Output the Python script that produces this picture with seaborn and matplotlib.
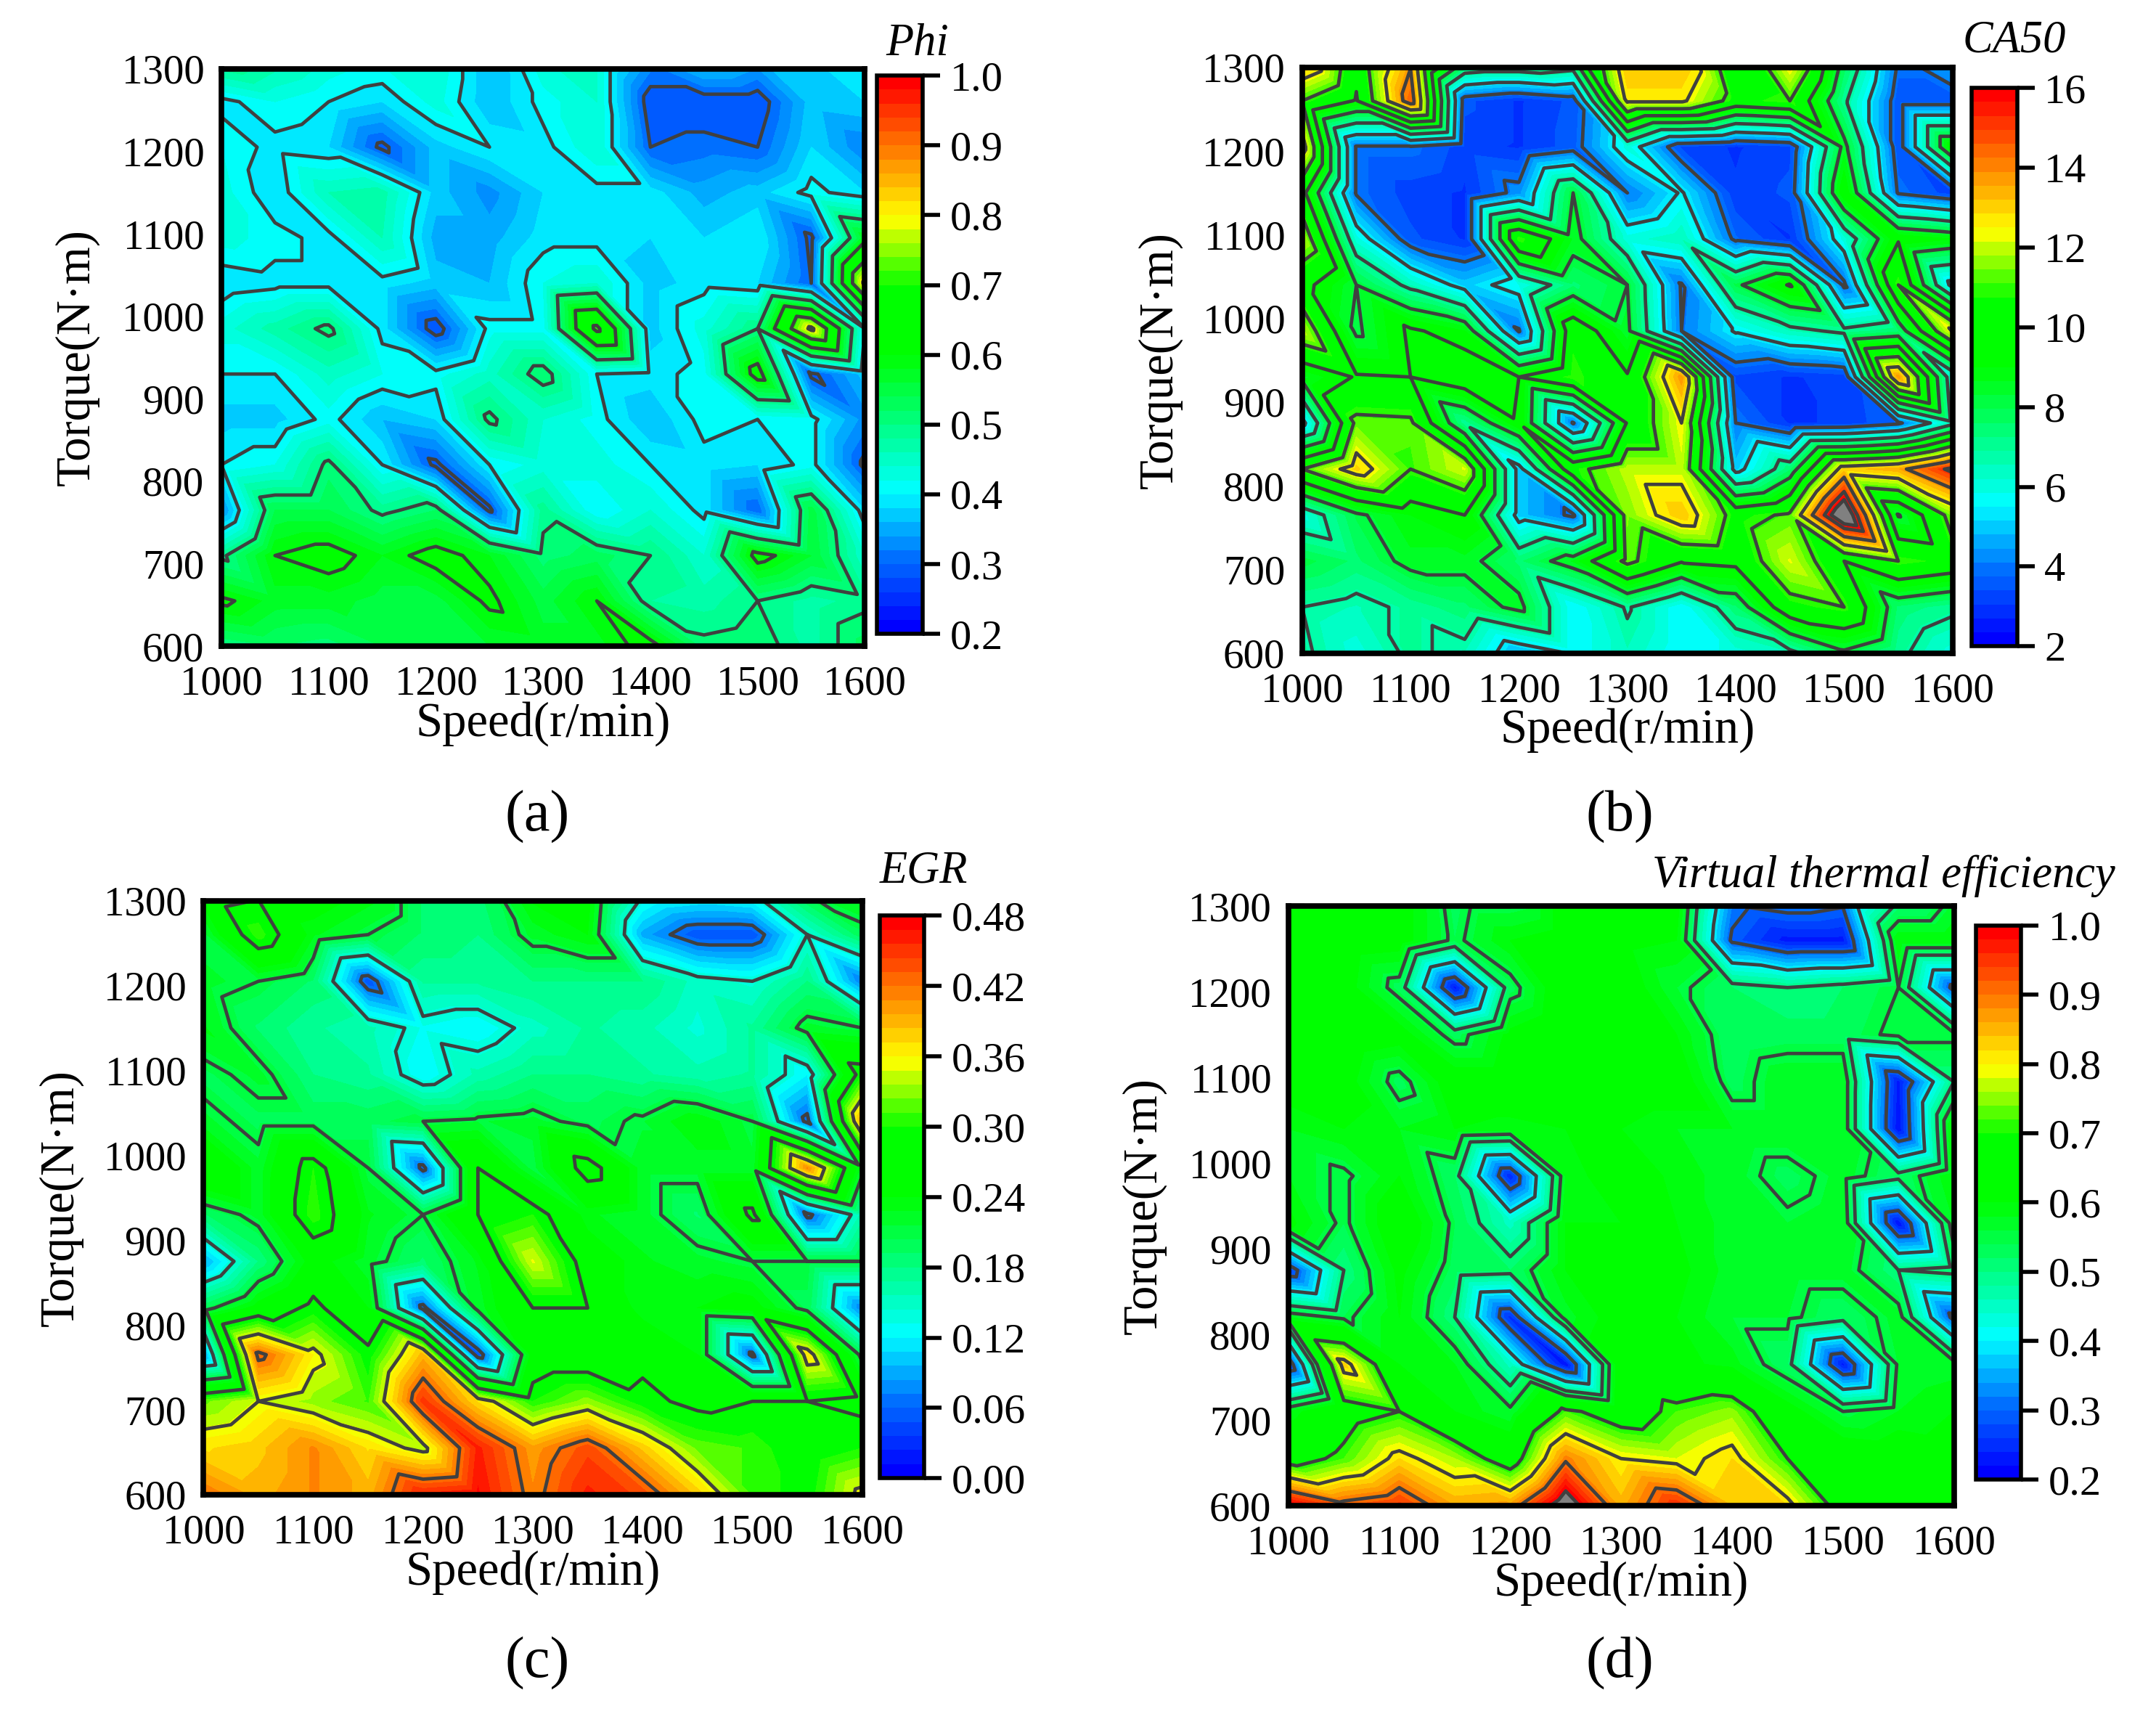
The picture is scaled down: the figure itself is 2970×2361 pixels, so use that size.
import numpy as np
import matplotlib
matplotlib.use("Agg")
import matplotlib.pyplot as plt
import matplotlib.tri as mtri
import seaborn as sns

speed = [1000, 1050, 1100, 1150, 1200, 1250, 1300, 1350, 1400, 1450, 1500, 1550, 1600]
# torque rows, top to bottom (the top row sits just above the axis limit)
torque = [1315, 1260, 1205, 1150, 1095, 1040, 985, 930, 875, 820, 765, 710, 655, 600]

phi = [
    [.52, .48, .44, .43, .44, .36, .44, .44, .34, .40, .36, .38, .38],
    [.39, .42, .40, .38, .43, .36, .41, .44, .28, .28, .28, .37, .38],
    [.42, .39, .38, .29, .37, .40, .39, .44, .30, .31, .30, .38, .32],
    [.43, .38, .46, .47, .37, .33, .38, .39, .39, .35, .37, .41, .38],
    [.43, .41, .39, .46, .35, .35, .39, .39, .38, .38, .40, .29, .58],
    [.38, .39, .39, .39, .37, .36, .42, .44, .37, .39, .38, .30, .82],
    [.43, .47, .51, .39, .28, .41, .41, .72, .37, .43, .50, .82, .40],
    [.40, .40, .45, .42, .41, .45, .52, .40, .39, .41, .63, .29, .37],
    [.37, .37, .41, .36, .38, .51, .44, .41, .36, .41, .40, .41, .33],
    [.40, .42, .51, .40, .29, .40, .43, .43, .40, .39, .38, .41, .29],
    [.33, .54, .54, .49, .52, .29, .49, .40, .44, .39, .30, .55, .38],
    [.49, .60, .62, .58, .62, .58, .51, .53, .50, .44, .62, .56, .44],
    [.61, .57, .57, .55, .55, .61, .55, .60, .48, .47, .50, .47, .49],
    [.50, .52, .51, .54, .55, .56, .57, .57, .62, .51, .52, .47, .53],
]

ca50 = [
    [14.0, 10.0, 13.5, 9.0, 9.0, 8.5, 13.5, 13.5, 9.5, 13.0, 8.0, 4.0, 5.0],
    [11.0, 9.5, 14.5, 3.5, 3.0, 3.5, 12.6, 12.6, 10.5, 11.0, 7.0, 3.5, 3.5],
    [13.0, 3.9, 3.9, 3.2, 3.0, 3.6, 6.0, 3.3, 3.0, 3.3, 8.5, 3.5, 9.6],
    [10.0, 3.9, 3.2, 3.0, 4.3, 8.2, 4.0, 5.5, 3.1, 3.5, 9.5, 3.9, 3.2],
    [12.0, 6.0, 3.5, 3.0, 11.0, 8.6, 6.0, 6.5, 3.8, 3.0, 6.0, 9.5, 9.0],
    [10.0, 8.2, 6.5, 5.0, 5.8, 7.5, 8.2, 3.9, 8.0, 9.7, 3.8, 11.0, 5.0],
    [12.0, 8.0, 9.8, 9.0, 3.9, 10.5, 8.4, 4.0, 5.5, 6.5, 7.0, 7.5, 12.5],
    [8.5, 9.7, 9.6, 10.5, 9.6, 11.0, 9.7, 13.8, 3.3, 3.0, 3.2, 13.8, 6.0],
    [5.0, 11.3, 11.2, 7.0, 9.5, 3.9, 9.7, 12.4, 4.0, 3.0, 3.1, 3.8, 6.5],
    [11.0, 13.0, 11.0, 12.2, 5.0, 10.6, 12.0, 12.0, 5.0, 7.5, 13.0, 13.5, 15.5],
    [6.0, 8.0, 9.0, 9.6, 5.0, 3.8, 11.5, 13.2, 10.5, 11.2, 17.5, 8.1, 11.5],
    [8.1, 7.5, 8.5, 8.5, 7.5, 8.7, 11.3, 9.7, 9.9, 12.2, 9.6, 11.0, 10.5],
    [6.8, 6.5, 7.0, 7.5, 8.5, 5.5, 6.9, 5.5, 7.5, 10.5, 11.0, 7.5, 7.0],
    [7.0, 6.0, 7.0, 6.5, 4.6, 5.5, 6.5, 5.5, 6.0, 6.5, 8.0, 7.0, 6.0],
]

egr = [
    [.26, .27, .26, .24, .19, .19, .25, .25, .15, .14, .15, .22, .24],
    [.21, .31, .23, .21, .19, .18, .22, .24, .09, .05, .05, .14, .20],
    [.22, .21, .19, .05, .17, .17, .18, .18, .18, .15, .14, .18, .07],
    [.23, .19, .17, .16, .13, .12, .15, .17, .16, .14, .17, .22, .21],
    [.20, .22, .18, .17, .12, .16, .18, .18, .17, .16, .17, .12, .30],
    [.22, .20, .20, .20, .21, .215, .22, .20, .215, .24, .21, .06, .40],
    [.28, .22, .30, .21, .06, .28, .21, .30, .22, .22, .22, .41, .22],
    [.19, .22, .31, .23, .21, .28, .30, .23, .22, .19, .29, .06, .16],
    [.09, .18, .25, .22, .19, .23, .35, .26, .23, .22, .21, .21, .21],
    [.20, .25, .29, .24, .06, .22, .28, .28, .23, .24, .25, .20, .07],
    [.08, .43, .36, .29, .39, .05, .25, .25, .27, .24, .06, .37, .20],
    [.32, .35, .33, .31, .45, .37, .30, .33, .29, .27, .28, .28, .27],
    [.37, .38, .41, .37, .34, .46, .40, .44, .38, .32, .31, .28, .30],
    [.42, .39, .41, .39, .46, .47, .41, .46, .44, .38, .31, .29, .36],
]

thermal = [
    [.60, .61, .62, .53, .53, .62, .62, .62, .33, .35, .33, .48, .55],
    [.65, .63, .62, .54, .60, .62, .61, .60, .29, .23, .23, .60, .60],
    [.60, .62, .53, .23, .53, .64, .63, .56, .52, .50, .52, .55, .28],
    [.63, .64, .62, .53, .61, .65, .62, .60, .52, .53, .53, .56, .56],
    [.62, .62, .53, .63, .63, .64, .63, .63, .53, .58, .58, .23, .50],
    [.58, .60, .58, .60, .59, .60, .60, .58, .58, .58, .58, .22, .62],
    [.58, .54, .60, .52, .24, .58, .63, .59, .57, .53, .57, .52, .60],
    [.61, .54, .64, .54, .45, .60, .60, .60, .57, .56, .58, .22, .58],
    [.26, .50, .61, .53, .52, .60, .61, .61, .57, .57, .57, .50, .52],
    [.58, .54, .60, .50, .25, .57, .62, .60, .56, .56, .52, .57, .28],
    [.25, .83, .60, .58, .45, .22, .64, .61, .59, .52, .23, .56, .57],
    [.58, .66, .70, .60, .56, .72, .65, .72, .75, .62, .55, .58, .60],
    [.66, .72, .82, .76, .65, .89, .80, .78, .82, .70, .64, .63, .62],
    [1.01, .92, .95, .86, .87, 1.05, .85, .96, .84, .82, .66, .62, .66],
]

phi_ticks = [0.2, 0.3, 0.4, 0.5, 0.6, 0.7, 0.8, 0.9, 1.0]
ca50_ticks = [2, 4, 6, 8, 10, 12, 14, 16]
egr_ticks = [0.00, 0.06, 0.12, 0.18, 0.24, 0.30, 0.36, 0.42, 0.48]
thermal_ticks = [0.2, 0.3, 0.4, 0.5, 0.6, 0.7, 0.8, 0.9, 1.0]

phi_lines = [0.3, 0.4, 0.5, 0.6, 0.7, 0.8, 0.9]
ca50_lines = [4, 5.4, 6.8, 8.2, 9.6, 11, 12.4, 13.8, 15.2, 16]
egr_lines = [0.07, 0.14, 0.21, 0.28, 0.35, 0.42]
thermal_lines = [0.3, 0.4, 0.5, 0.55, 0.7, 0.8, 0.9, 1.0]

sns.set_theme(style="ticks", rc={"axes.grid": False})
plt.rcParams['font.family'] = ['Liberation Serif', 'DejaVu Serif']

# rainbow with a flat green stretch, as in the colour bars
colors = sns.blend_palette(
    ["#0000ff", "#006eff", "#00ffff", "#00ff80", "#00ff00",
     "#00ff00", "#ffff00", "#ff8000", "#ff0000"],
    n_colors=40)
cmap = matplotlib.colors.ListedColormap(colors)
cmap.set_over("#808080")
cmap.set_under("#0000ff")

W, H = 2970, 2361
SCALE = 2970 / 1568
fig = plt.figure(figsize=(W / 100, H / 100), dpi=100)

# triangles split along the upper-left to lower-right diagonal
n_rows, n_cols = len(torque), len(speed)
triangles = []
for r in range(n_rows - 1):
    for c in range(n_cols - 1):
        a = r * n_cols + c
        triangles.append([a, a + 1, a + n_cols + 1])
        triangles.append([a, a + n_cols + 1, a + n_cols])
xx, yy = np.meshgrid(speed, torque)
tri = mtri.Triangulation(xx.ravel(), yy.ravel(), triangles)


def box(x0, y0, x1, y1):
    # shrunk-picture pixel box to figure fractions
    return [x0 * SCALE / W, 1 - y1 * SCALE / H, (x1 - x0) * SCALE / W, (y1 - y0) * SCALE / H]


def panel(values, ticks, lines, fmt, ax_box, bar_box, title, title_xy, letter, letter_xy, ypad):
    ax = fig.add_axes(box(*ax_box))
    cax = fig.add_axes(box(*bar_box))
    z = np.array(values).ravel()
    levels = np.linspace(ticks[0], ticks[-1], 41)
    ax.tricontourf(tri, z, levels=levels, cmap=cmap, extend="both")
    ax.tricontour(tri, z, levels=lines, colors="#404040", linewidths=3.4)
    ax.set_xlim(1000, 1600)
    ax.set_ylim(600, 1300)
    ax.set_xticks(range(1000, 1601, 100))
    ax.set_yticks(range(600, 1301, 100))
    ax.tick_params(direction="in", length=16, width=4.5, labelsize=41, color="black")
    ax.tick_params(axis="x", pad=19)
    ax.tick_params(axis="y", pad=17)
    ax.set_xlabel("Speed(r/min)", fontsize=48, labelpad=-2, color="black")
    ax.set_ylabel("Torque(N·m)", fontsize=48, labelpad=ypad, color="black")
    for s in ax.spines.values():
        s.set_linewidth(5.5)
        s.set_color("black")
    for t in ax.get_xticklabels() + ax.get_yticklabels():
        t.set_color("black")

    norm = matplotlib.colors.BoundaryNorm(levels, cmap.N)
    cb = fig.colorbar(matplotlib.cm.ScalarMappable(norm=norm, cmap=cmap), cax=cax,
                      spacing="proportional", drawedges=False)
    cb.set_ticks(ticks)
    cb.set_ticklabels([fmt % t for t in ticks])
    cb.ax.minorticks_off()
    cb.ax.tick_params(direction="out", length=17, width=4, labelsize=42, pad=10,
                      labelcolor="black", color="black")
    cb.outline.set_linewidth(4)
    cb.outline.set_edgecolor("black")

    fig.text(title_xy[0] * SCALE / W, 1 - title_xy[1] * SCALE / H, title, style="italic",
             fontsize=45, ha="center", va="center", color="black")
    fig.text(letter_xy[0] * SCALE / W, 1 - letter_xy[1] * SCALE / H, letter,
             fontsize=58, ha="center", va="center", color="black")


panel(phi, phi_ticks, phi_lines, "%.1f", (161, 50, 629, 470), (638, 55, 671, 461),
      "Phi", (667, 32), "(a)", (391, 594), 22)
panel(ca50, ca50_ticks, ca50_lines, "%d", (947, 49, 1420, 475), (1434, 64, 1467, 470),
      "CA50", (1465, 30), "(b)", (1178, 594), 20)
panel(egr, egr_ticks, egr_lines, "%.2f", (148, 655, 627, 1087), (640, 666, 672, 1075),
      "EGR", (672, 634), "(c)", (391, 1210), 20)
panel(thermal, thermal_ticks, thermal_lines, "%.1f", (937, 659, 1421, 1095), (1437, 673, 1470, 1076),
      "Virtual thermal efficiency", (1370, 637), "(d)", (1178, 1210), 22)

fig.savefig("out.png", dpi=100, facecolor="white")
